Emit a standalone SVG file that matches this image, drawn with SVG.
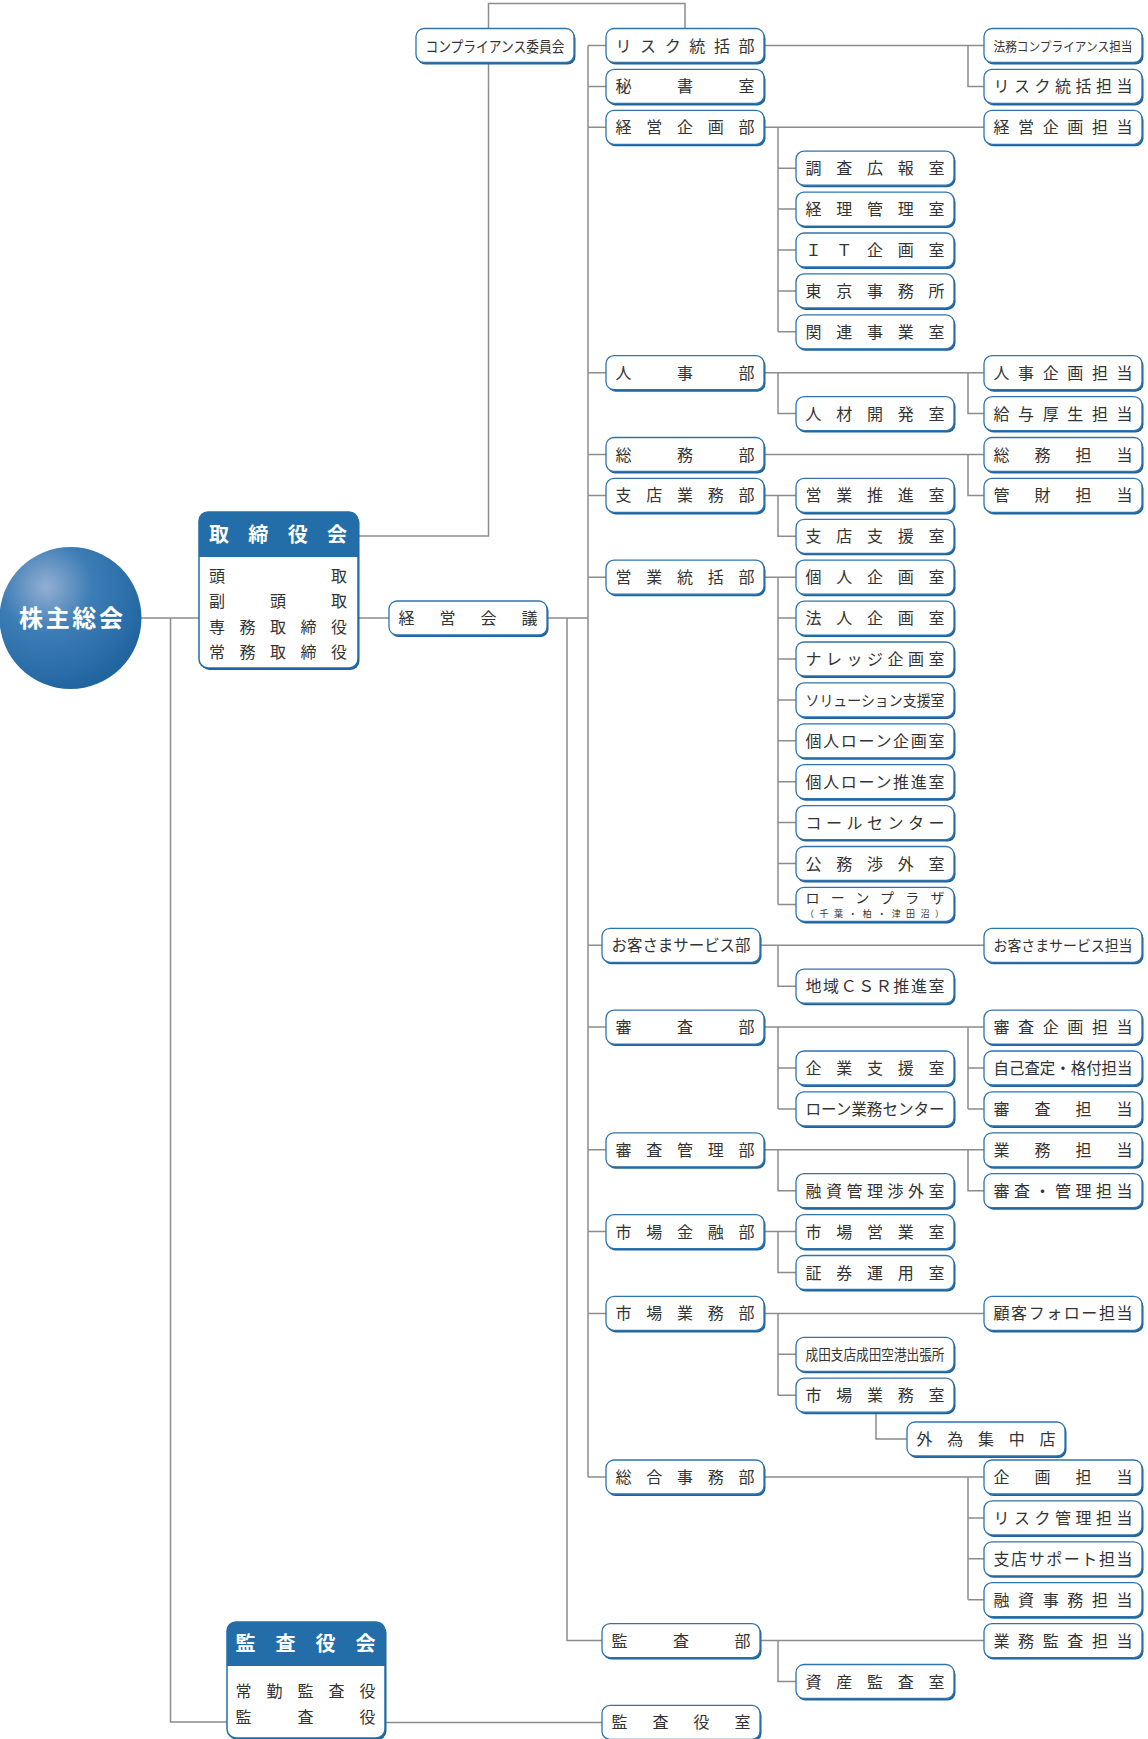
<svg xmlns="http://www.w3.org/2000/svg" xmlns:xlink="http://www.w3.org/1999/xlink" width="1148" height="1739" viewBox="0 0 1148 1739">
<style>
.c{fill:none;stroke:#8c8c8c;stroke-width:1.5}
text{font-family:"Noto Sans CJK JP","Noto Sans CJK SC",sans-serif;fill:#333;font-size:16px}
.s{font-size:15px}
.h{fill:#fff;font-size:20px;font-weight:bold}
.w{fill:#fff;font-size:24px;font-weight:bold}
</style>
<defs>
<radialGradient id="g" cx="0.33" cy="0.28" r="0.8" fx="0.33" fy="0.28">
<stop offset="0" stop-color="#93afd2"/>
<stop offset="0.4" stop-color="#3d7db6"/>
<stop offset="1" stop-color="#1d629d"/>
</radialGradient>
<g id="b"><rect x="1.5" y="2" width="158" height="34" rx="8" fill="#1f639c"/><rect width="158" height="34" rx="8" fill="#fff" stroke="#2f74ad" stroke-width="1.3"/></g>
</defs>
<rect width="1148" height="1739" fill="#fff"/>

<g id="connectors" class="c">
<path d="M141,618H199M170.5,618V1722H227M358,618H389M358,536H488.5V62M488.5,29V3.5H685V29M546,618H588M588,45.5V1477"/>
<path d="M588,45.5H606M588,86.4H606M588,127.3H606M588,372.7H606M588,454.5H606M588,495.4H606M588,577.2H606M588,945.3H602M588,1027.1H606M588,1149.8H606M588,1231.6H606M588,1313.4H606M588,1477H606"/>
<path d="M567,618V1640.6H602M385,1722.4H602"/>
<path d="M764,45.5H984M968,45.5V86.4H984"/>
<path d="M764,127.3H984M778,127.3V331.8M778,168.2H796M778,209.1H796M778,250H796M778,290.9H796M778,331.8H796"/>
<path d="M764,372.7H984M968,372.7V413.6H984M778,372.7V413.6H796"/>
<path d="M764,454.5H984M968,454.5V495.4H984"/>
<path d="M764,495.4H796M778,495.4V536.3H796"/>
<path d="M764,577.2H796M778,577.2V904.4M778,618.1H796M778,659H796M778,699.9H796M778,740.8H796M778,781.7H796M778,822.6H796M778,863.5H796M778,904.4H796"/>
<path d="M760,945.3H984M778,945.3V986.2H796"/>
<path d="M764,1027.1H984M968,1027.1V1108.9M968,1068H984M968,1108.9H984M778,1027.1V1108.9M778,1068H796M778,1108.9H796"/>
<path d="M764,1149.8H984M968,1149.8V1190.7H984M778,1149.8V1190.7H796"/>
<path d="M764,1231.6H796M778,1231.6V1272.5H796"/>
<path d="M764,1313.4H984M778,1313.4V1395.2M778,1354.3H796M778,1395.2H796M876,1412V1439H907"/>
<path d="M764,1477H984M968,1477V1599.7M968,1517.9H984M968,1558.8H984M968,1599.7H984"/>
<path d="M760,1640.6H984M778,1640.6V1681.5H796"/>
</g>

<g id="shareholders">
<circle cx="70.5" cy="618" r="71" fill="url(#g)"/>
<text class="w" x="19" y="627" textLength="104">株主総会</text>
</g>

<g id="board" transform="translate(199,512)">
<rect x="1.5" y="2" width="159" height="156" rx="9" fill="#1f639c"/>
<rect width="159" height="156" rx="9" fill="#fff" stroke="#236ea8" stroke-width="1.5"/>
<path d="M0,45V9A9,9 0 0 1 9,0H150A9,9 0 0 1 159,9V45Z" fill="#236ea8"/>
<text class="h" x="10" y="30" textLength="138">取締役会</text>
<text x="10" y="70" textLength="138">頭取</text>
<text x="10" y="95" textLength="138">副頭取</text>
<text x="10" y="120.5" textLength="138">専務取締役</text>
<text x="10" y="146" textLength="138">常務取締役</text>
</g>

<g id="auditboard" transform="translate(227,1622)">
<rect x="1.5" y="2" width="158" height="116" rx="9" fill="#1f639c"/>
<rect width="158" height="116" rx="9" fill="#fff" stroke="#236ea8" stroke-width="1.5"/>
<path d="M0,44V9A9,9 0 0 1 9,0H149A9,9 0 0 1 158,9V44Z" fill="#236ea8"/>
<text class="h" x="8.5" y="29" textLength="140">監査役会</text>
<text x="8.5" y="75" textLength="140">常勤監査役</text>
<text x="8.5" y="101" textLength="140">監査役</text>
</g>

<g id="compliance" transform="translate(416,28.5)"><use href="#b"/><text class="s" x="9.5" y="23" textLength="139" lengthAdjust="spacingAndGlyphs">コンプライアンス委員会</text></g>
<g id="mgmt" transform="translate(389,601)"><use href="#b"/><text x="9.5" y="23" textLength="139">経営会議</text></g>

<g id="d-risk" transform="translate(606,28.5)"><use href="#b"/><text x="9.5" y="23" textLength="139">リスク統括部</text></g>
<g id="d-secretary" transform="translate(606,69.4)"><use href="#b"/><text x="9.5" y="23" textLength="139">秘書室</text></g>
<g id="d-planning" transform="translate(606,110.3)"><use href="#b"/><text x="9.5" y="23" textLength="139">経営企画部</text></g>
<g id="d-hr" transform="translate(606,355.7)"><use href="#b"/><text x="9.5" y="23" textLength="139">人事部</text></g>
<g id="d-general" transform="translate(606,437.5)"><use href="#b"/><text x="9.5" y="23" textLength="139">総務部</text></g>
<g id="d-branch" transform="translate(606,478.4)"><use href="#b"/><text x="9.5" y="23" textLength="139">支店業務部</text></g>
<g id="d-sales" transform="translate(606,560.2)"><use href="#b"/><text x="9.5" y="23" textLength="139">営業統括部</text></g>
<g id="d-customer" transform="translate(602,928.3)"><use href="#b"/><text x="9.5" y="23" textLength="139" lengthAdjust="spacingAndGlyphs">お客さまサービス部</text></g>
<g id="d-credit" transform="translate(606,1010.1)"><use href="#b"/><text x="9.5" y="23" textLength="139">審査部</text></g>
<g id="d-creditmgmt" transform="translate(606,1132.8)"><use href="#b"/><text x="9.5" y="23" textLength="139">審査管理部</text></g>
<g id="d-market" transform="translate(606,1214.6)"><use href="#b"/><text x="9.5" y="23" textLength="139">市場金融部</text></g>
<g id="d-marketops" transform="translate(606,1296.4)"><use href="#b"/><text x="9.5" y="23" textLength="139">市場業務部</text></g>
<g id="d-ops" transform="translate(606,1460)"><use href="#b"/><text x="9.5" y="23" textLength="139">総合事務部</text></g>
<g id="d-audit" transform="translate(602,1623.6)"><use href="#b"/><text x="9.5" y="23" textLength="139">監査部</text></g>
<g id="d-auditoffice" transform="translate(602,1705.4)"><use href="#b"/><text x="9.5" y="23" textLength="139">監査役室</text></g>

<g id="s-research" transform="translate(796,151.2)"><use href="#b"/><text x="9.5" y="23" textLength="139">調査広報室</text></g>
<g id="s-accounting" transform="translate(796,192.1)"><use href="#b"/><text x="9.5" y="23" textLength="139">経理管理室</text></g>
<g id="s-it" transform="translate(796,233)"><use href="#b"/><text x="9.5" y="23" textLength="139">ＩＴ企画室</text></g>
<g id="s-tokyo" transform="translate(796,273.9)"><use href="#b"/><text x="9.5" y="23" textLength="139">東京事務所</text></g>
<g id="s-affiliate" transform="translate(796,314.8)"><use href="#b"/><text x="9.5" y="23" textLength="139">関連事業室</text></g>
<g id="s-talent" transform="translate(796,396.6)"><use href="#b"/><text x="9.5" y="23" textLength="139">人材開発室</text></g>
<g id="s-salespromo" transform="translate(796,478.4)"><use href="#b"/><text x="9.5" y="23" textLength="139">営業推進室</text></g>
<g id="s-branchsupport" transform="translate(796,519.3)"><use href="#b"/><text x="9.5" y="23" textLength="139">支店支援室</text></g>
<g id="s-personal" transform="translate(796,560.2)"><use href="#b"/><text x="9.5" y="23" textLength="139">個人企画室</text></g>
<g id="s-corporate" transform="translate(796,601.1)"><use href="#b"/><text x="9.5" y="23" textLength="139">法人企画室</text></g>
<g id="s-knowledge" transform="translate(796,642)"><use href="#b"/><text x="9.5" y="23" textLength="139">ナレッジ企画室</text></g>
<g id="s-solution" transform="translate(796,682.9)"><use href="#b"/><text class="s" x="9.5" y="23" textLength="139" lengthAdjust="spacingAndGlyphs">ソリューション支援室</text></g>
<g id="s-loanplan" transform="translate(796,723.8)"><use href="#b"/><text x="9.5" y="23" textLength="139">個人ローン企画室</text></g>
<g id="s-loanpromo" transform="translate(796,764.7)"><use href="#b"/><text x="9.5" y="23" textLength="139">個人ローン推進室</text></g>
<g id="s-callcenter" transform="translate(796,805.6)"><use href="#b"/><text x="9.5" y="23" textLength="139">コールセンター</text></g>
<g id="s-public" transform="translate(796,846.5)"><use href="#b"/><text x="9.5" y="23" textLength="139">公務渉外室</text></g>
<g id="s-loanplaza" transform="translate(796,887.4)"><use href="#b"/><text style="font-size:14px" x="9.5" y="15.3" textLength="139">ローンプラザ</text><text style="font-size:9px" x="9" y="29.8" textLength="139">（千葉・柏・津田沼）</text></g>
<g id="s-csr" transform="translate(796,969.2)"><use href="#b"/><text x="9.5" y="23" textLength="139">地域ＣＳＲ推進室</text></g>
<g id="s-bizsupport" transform="translate(796,1051)"><use href="#b"/><text x="9.5" y="23" textLength="139">企業支援室</text></g>
<g id="s-loancenter" transform="translate(796,1091.9)"><use href="#b"/><text x="9.5" y="23" textLength="139" lengthAdjust="spacingAndGlyphs">ローン業務センター</text></g>
<g id="s-loannego" transform="translate(796,1173.7)"><use href="#b"/><text x="9.5" y="23" textLength="139">融資管理渉外室</text></g>
<g id="s-marketsales" transform="translate(796,1214.6)"><use href="#b"/><text x="9.5" y="23" textLength="139">市場営業室</text></g>
<g id="s-securities" transform="translate(796,1255.5)"><use href="#b"/><text x="9.5" y="23" textLength="139">証券運用室</text></g>
<g id="s-narita" transform="translate(796,1337.3)"><use href="#b"/><text class="s" x="9.5" y="23" textLength="139" lengthAdjust="spacingAndGlyphs">成田支店成田空港出張所</text></g>
<g id="s-marketops" transform="translate(796,1378.2)"><use href="#b"/><text x="9.5" y="23" textLength="139">市場業務室</text></g>
<g id="s-fx" transform="translate(907,1422)"><use href="#b"/><text x="9.5" y="23" textLength="139">外為集中店</text></g>
<g id="s-assetaudit" transform="translate(796,1664.5)"><use href="#b"/><text x="9.5" y="23" textLength="139">資産監査室</text></g>

<g id="r-legal" transform="translate(984,28.5)"><use href="#b"/><text style="font-size:12.7px" x="9.5" y="22" textLength="139" lengthAdjust="spacingAndGlyphs">法務コンプライアンス担当</text></g>
<g id="r-risk" transform="translate(984,69.4)"><use href="#b"/><text x="9.5" y="23" textLength="139">リスク統括担当</text></g>
<g id="r-planning" transform="translate(984,110.3)"><use href="#b"/><text x="9.5" y="23" textLength="139">経営企画担当</text></g>
<g id="r-hrplan" transform="translate(984,355.7)"><use href="#b"/><text x="9.5" y="23" textLength="139">人事企画担当</text></g>
<g id="r-payroll" transform="translate(984,396.6)"><use href="#b"/><text x="9.5" y="23" textLength="139">給与厚生担当</text></g>
<g id="r-general" transform="translate(984,437.5)"><use href="#b"/><text x="9.5" y="23" textLength="139">総務担当</text></g>
<g id="r-property" transform="translate(984,478.4)"><use href="#b"/><text x="9.5" y="23" textLength="139">管財担当</text></g>
<g id="r-customer" transform="translate(984,928.3)"><use href="#b"/><text class="s" x="9.5" y="23" textLength="139" lengthAdjust="spacingAndGlyphs">お客さまサービス担当</text></g>
<g id="r-creditplan" transform="translate(984,1010.1)"><use href="#b"/><text x="9.5" y="23" textLength="139">審査企画担当</text></g>
<g id="r-rating" transform="translate(984,1051)"><use href="#b"/><text x="9.5" y="23" textLength="139" lengthAdjust="spacingAndGlyphs">自己査定・格付担当</text></g>
<g id="r-credit" transform="translate(984,1091.9)"><use href="#b"/><text x="9.5" y="23" textLength="139">審査担当</text></g>
<g id="r-business" transform="translate(984,1132.8)"><use href="#b"/><text x="9.5" y="23" textLength="139">業務担当</text></g>
<g id="r-creditmgmt" transform="translate(984,1173.7)"><use href="#b"/><text x="9.5" y="23" textLength="139">審査・管理担当</text></g>
<g id="r-followup" transform="translate(984,1296.4)"><use href="#b"/><text x="9.5" y="23" textLength="139">顧客フォロー担当</text></g>
<g id="r-opsplan" transform="translate(984,1460)"><use href="#b"/><text x="9.5" y="23" textLength="139">企画担当</text></g>
<g id="r-riskmgmt" transform="translate(984,1500.9)"><use href="#b"/><text x="9.5" y="23" textLength="139">リスク管理担当</text></g>
<g id="r-branchsupport" transform="translate(984,1541.8)"><use href="#b"/><text x="9.5" y="23" textLength="139">支店サポート担当</text></g>
<g id="r-loanops" transform="translate(984,1582.7)"><use href="#b"/><text x="9.5" y="23" textLength="139">融資事務担当</text></g>
<g id="r-bizaudit" transform="translate(984,1623.6)"><use href="#b"/><text x="9.5" y="23" textLength="139">業務監査担当</text></g>
</svg>
